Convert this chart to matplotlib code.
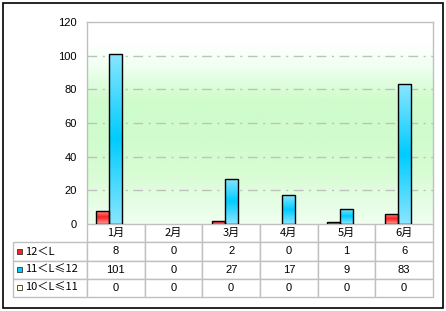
import numpy as np
import matplotlib
matplotlib.use("Agg")
import matplotlib.pyplot as plt
from matplotlib.table import Table
from matplotlib.patches import Rectangle
from matplotlib.colors import LinearSegmentedColormap
from matplotlib.transforms import IdentityTransform

plt.rcParams['font.family'] = ['Liberation Sans', 'Noto Sans CJK SC', 'DejaVu Sans']
plt.rcParams['lines.scale_dashes'] = False

months = ["1月", "2月", "3月", "4月", "5月", "6月"]
series_names = ["12＜L", "11＜L≤12", "10＜L≤11"]
s_gt12 = [8, 0, 2, 0, 1, 6]
s_11_12 = [101, 0, 27, 17, 9, 83]
s_10_11 = [0, 0, 0, 0, 0, 0]
series = [s_gt12, s_11_12, s_10_11]
yticks = [0, 20, 40, 60, 80, 100, 120]

base_colors = ["#ff2020", "#00ccff", "#ffffcc"]
light_colors = ["#ff9a9a", "#8ae6ff", "#ffffee"]

W, H = 446, 311
fig = plt.figure(figsize=(W / 100, H / 100), dpi=100)
fig.patch.set_facecolor("white")

x0p, x1p, ytp, ybp = 87, 433, 22, 224
ax = fig.add_axes([x0p / W, 1 - ybp / H, (x1p - x0p) / W, (ybp - ytp) / H])
ax.set_xlim(-0.5, len(months) - 0.5)
ax.set_ylim(0, 120)

# background gradient
bg = LinearSegmentedColormap.from_list("bg", [
    (0.0, "#f0fff0"), (0.25, "#d8fcd4"), (0.45, "#cffccc"),
    (0.62, "#d0fccc"), (0.78, "#effff0"), (0.9, "#ffffff"), (1.0, "#ffffff")])
grad = np.linspace(0, 1, 256).reshape(-1, 1)
ax.imshow(grad, cmap=bg, aspect="auto", origin="lower",
          extent=[-0.5, len(months) - 0.5, 0, 120], zorder=0)

for t in yticks[1:-1]:
    ax.axhline(t, color="#c0c0c0", lw=1.0, dashes=(7, 4, 1.5, 4), zorder=1)

for s in ["left", "top", "right"]:
    ax.spines[s].set_color("#c0c0c0")
    ax.spines[s].set_linewidth(1.0)
ax.spines["bottom"].set_visible(False)
ax.set_xticks([])
ax.set_yticks(yticks)
ax.tick_params(axis="y", length=0, pad=7.5, labelsize=8)

w = 0.225
x = np.arange(len(months))
for k, vals in enumerate(series):
    cmap = LinearSegmentedColormap.from_list("b%d" % k, [
        (0.0, light_colors[k]), (0.5, base_colors[k]), (1.0, light_colors[k])])
    bars = ax.bar(x + (k - 1) * w, vals, width=w, facecolor="none",
                  edgecolor="black", linewidth=1.0, zorder=3)
    for b, v in zip(bars, vals):
        if v == 0:
            b.set_linewidth(0)
            continue
        xx, yy = b.get_x(), b.get_y()
        im = ax.imshow(grad, cmap=cmap, aspect="auto", origin="lower",
                       extent=[xx, xx + b.get_width(), yy, yy + b.get_height()],
                       zorder=2)
        im.set_clip_path(b)
ax.set_xlim(-0.5, len(months) - 0.5)
ax.set_ylim(0, 120)

# data table
tbl_left, tbl_bottom = 13, 297
tb = Table(ax, bbox=[(tbl_left - x0p) / (x1p - x0p), -(tbl_bottom - ybp) / (ybp - ytp),
                     (x1p - tbl_left) / (x1p - x0p), (tbl_bottom - ybp) / (ybp - ytp)])
label_w, col_w, row_h = 74, 346 / 6, 18
cjk = ['Noto Sans CJK SC', 'DejaVu Sans']
for j, m in enumerate(months):
    c = tb.add_cell(0, j + 1, col_w, row_h, text=m, loc="center",
                    facecolor="white", edgecolor="#c0c0c0")
    c.get_text().set_family(cjk)
for i, (name, vals) in enumerate(zip(series_names, series)):
    c = tb.add_cell(i + 1, 0, label_w, row_h, text=name, loc="left",
                    facecolor="white", edgecolor="#c0c0c0")
    c.PAD = 0.16
    c.get_text().set_family(cjk)
    for j, v in enumerate(vals):
        tb.add_cell(i + 1, j + 1, col_w, row_h, text=str(v), loc="center",
                    facecolor="white", edgecolor="#c0c0c0")
tb.auto_set_font_size(False)
tb.set_fontsize(8)
for cell in tb.get_celld().values():
    cell.set_linewidth(1.0)
ax.add_table(tb)

fig.canvas.draw()
renderer = fig.canvas.get_renderer()
for i in range(len(series)):
    bb = tb[(i + 1, 0)].get_window_extent(renderer)
    cy = (bb.y0 + bb.y1) / 2
    sw = Rectangle((bb.x0 + 4, cy - 2.5), 5, 5, transform=IdentityTransform(),
                   facecolor=base_colors[i], edgecolor="#333333", linewidth=0.6)
    fig.add_artist(sw)

# outer border
fig.add_artist(Rectangle((2.5, H - 308), 440, 305, transform=IdentityTransform(),
                         facecolor="none", edgecolor="black", linewidth=1.2))

fig.savefig("out.png", dpi=100)
